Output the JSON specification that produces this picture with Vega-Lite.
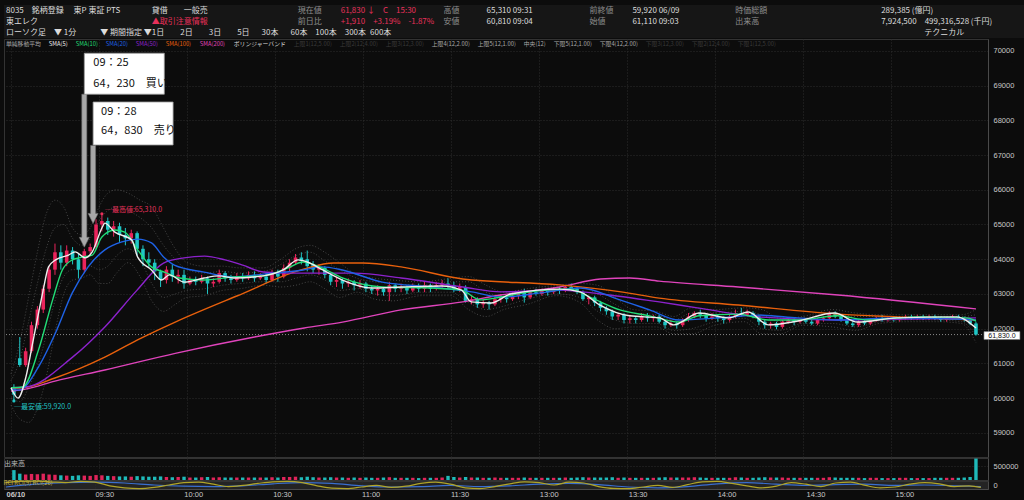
{
"$schema":"https://vega.github.io/schema/vega-lite/v6.json",
"background":"#0c0c0c",
"padding":{"left":3,"top":5,"right":0,"bottom":2},
"spacing":1,
"bounds":"flush",
"resolve":{"scale":{"color":"independent"},"legend":{"color":"independent"}},
"config":{"view":{"stroke":"#333333"},"axis":{"labelColor":"#c8c8c8","labelFont":"Liberation Sans","labelFontSize":7.5,"gridColor":"#2c2c2c","gridDash":[1,2],"gridWidth":1,"tickSize":0,"domainColor":"#4a4a4a","labelOverlap":false},"text":{"font":"Noto Sans CJK JP"},"title":{"font":"Noto Sans CJK JP","color":"#bbbbbb","fontSize":7,"fontWeight":"normal","anchor":"start"}},
"datasets":{
"header":[
{"g":"銘柄","line":1,"part":"name","tone":"text","text":"8035　銘柄登録　 東P 東証 PTS"},
{"g":"銘柄","line":2,"part":"name","tone":"text","text":"東エレク"},
{"g":"銘柄","line":3,"part":"name","tone":"text","text":"ローソク足　▼ 1分　　　▼ 期間指定 ▼"},
{"g":"信用","line":1,"part":"name","tone":"text","text":"　　\u2002貸借　　一般売"},
{"g":"信用","line":2,"part":"name","tone":"red","text":"　\u2002▲取引注意情報"},
{"g":"信用","line":3,"part":"name","tone":"text","text":"　1日　　2日　　3日　　5日　\u200230本　\u200260本　100本\u2002\u2002300本\u2002600本"},
{"g":"現在値","line":1,"part":"name","tone":"label","text":"現在値"},
{"g":"現在値","line":1,"part":"value","tone":"red","text":"61,830 ↓　C　15:30"},
{"g":"現在値","line":2,"part":"name","tone":"label","text":"前日比"},
{"g":"現在値","line":2,"part":"value","tone":"red","text":"+1,910　+3.19%　-1.87%"},
{"g":"高値","line":1,"part":"name","tone":"label","text":"高値"},
{"g":"高値","line":1,"part":"value","tone":"text","text":"65,310 09:31"},
{"g":"高値","line":2,"part":"name","tone":"label","text":"安値"},
{"g":"高値","line":2,"part":"value","tone":"text","text":"60,810 09:04"},
{"g":"前終値","line":1,"part":"name","tone":"label","text":"前終値"},
{"g":"前終値","line":1,"part":"value","tone":"text","text":"59,920 06/09"},
{"g":"前終値","line":2,"part":"name","tone":"label","text":"始値"},
{"g":"前終値","line":2,"part":"value","tone":"text","text":"61,110 09:03"},
{"g":"時価総額","line":1,"part":"name","tone":"label","text":"時価総額"},
{"g":"時価総額","line":2,"part":"name","tone":"label","text":"出来高"},
{"g":"金額","line":1,"part":"name","tone":"text","text":"\u2002\u2002289,385 (億円)"},
{"g":"金額","line":2,"part":"name","tone":"text","text":"7,924,500　499,316,528 (千円)"},
{"g":"金額","line":3,"part":"value","tone":"text","text":"テクニカル"}
],
"candles":[
{"t":1,"o":60300,"h":60400,"l":59920,"c":60100,"v":360000},
{"t":3,"o":61150,"h":61760,"l":60900,"c":60950,"v":230000},
{"t":5,"o":60950,"h":61450,"l":60900,"c":61350,"v":200000},
{"t":7,"o":61350,"h":62200,"l":61300,"c":62100,"v":220000},
{"t":9,"o":62100,"h":62650,"l":62000,"c":62550,"v":210000},
{"t":11,"o":62550,"h":63250,"l":62450,"c":63150,"v":230000},
{"t":13,"o":63150,"h":63800,"l":63050,"c":63700,"v":200000},
{"t":15,"o":63700,"h":64450,"l":63550,"c":64200,"v":190000},
{"t":17,"o":64200,"h":64400,"l":63700,"c":63900,"v":170000},
{"t":19,"o":63900,"h":64400,"l":63800,"c":64250,"v":160000},
{"t":21,"o":64250,"h":64350,"l":63850,"c":64000,"v":150000},
{"t":23,"o":64000,"h":64150,"l":63450,"c":63700,"v":170000},
{"t":25,"o":63700,"h":64300,"l":63600,"c":64230,"v":160000},
{"t":27,"o":64230,"h":64450,"l":64100,"c":64350,"v":150000},
{"t":29,"o":64350,"h":65150,"l":64300,"c":65000,"v":180000},
{"t":31,"o":65000,"h":65310,"l":64800,"c":65100,"v":170000},
{"t":33,"o":65100,"h":65200,"l":64700,"c":64850,"v":150000},
{"t":35,"o":64850,"h":65100,"l":64650,"c":64950,"v":140000},
{"t":37,"o":64950,"h":65050,"l":64500,"c":64700,"v":130000},
{"t":39,"o":64700,"h":64900,"l":64400,"c":64600,"v":130000},
{"t":41,"o":64600,"h":64850,"l":64450,"c":64750,"v":120000},
{"t":43,"o":64750,"h":64800,"l":64100,"c":64300,"v":140000},
{"t":45,"o":64300,"h":64400,"l":63800,"c":64000,"v":130000},
{"t":47,"o":64000,"h":64200,"l":63750,"c":63900,"v":120000},
{"t":49,"o":63900,"h":64000,"l":63400,"c":63650,"v":120000},
{"t":51,"o":63650,"h":63700,"l":63200,"c":63400,"v":130000},
{"t":53,"o":63400,"h":63800,"l":63300,"c":63700,"v":110000},
{"t":55,"o":63700,"h":63850,"l":63350,"c":63500,"v":100000},
{"t":57,"o":63500,"h":63700,"l":63300,"c":63550,"v":110000},
{"t":59,"o":63550,"h":63700,"l":63150,"c":63300,"v":120000},
{"t":61,"o":63300,"h":63500,"l":63250,"c":63400,"v":90000},
{"t":63,"o":63400,"h":63500,"l":63250,"c":63350,"v":90000},
{"t":65,"o":63350,"h":63550,"l":63300,"c":63450,"v":100000},
{"t":67,"o":63450,"h":63500,"l":63000,"c":63300,"v":110000},
{"t":69,"o":63300,"h":63450,"l":63200,"c":63350,"v":90000},
{"t":71,"o":63350,"h":63700,"l":63300,"c":63600,"v":100000},
{"t":73,"o":63600,"h":63650,"l":63350,"c":63450,"v":90000},
{"t":75,"o":63450,"h":63550,"l":63300,"c":63400,"v":90000},
{"t":77,"o":63400,"h":63600,"l":63350,"c":63500,"v":90000},
{"t":79,"o":63500,"h":63600,"l":63350,"c":63450,"v":90000},
{"t":81,"o":63450,"h":63650,"l":63400,"c":63550,"v":90000},
{"t":83,"o":63550,"h":63650,"l":63350,"c":63450,"v":90000},
{"t":85,"o":63450,"h":63600,"l":63400,"c":63500,"v":90000},
{"t":87,"o":63500,"h":63600,"l":63300,"c":63400,"v":90000},
{"t":89,"o":63400,"h":63700,"l":63350,"c":63600,"v":100000},
{"t":91,"o":63600,"h":63700,"l":63350,"c":63500,"v":90000},
{"t":93,"o":63500,"h":63850,"l":63450,"c":63750,"v":110000},
{"t":95,"o":63750,"h":64000,"l":63650,"c":63900,"v":110000},
{"t":97,"o":63900,"h":64150,"l":63850,"c":64050,"v":120000},
{"t":99,"o":64050,"h":64200,"l":63850,"c":63950,"v":100000},
{"t":101,"o":64000,"h":64250,"l":63650,"c":63800,"v":120000},
{"t":103,"o":63850,"h":63950,"l":63600,"c":63700,"v":100000},
{"t":105,"o":63700,"h":63850,"l":63550,"c":63750,"v":90000},
{"t":107,"o":63750,"h":63800,"l":63450,"c":63550,"v":90000},
{"t":109,"o":63550,"h":63600,"l":63250,"c":63350,"v":100000},
{"t":111,"o":63350,"h":63500,"l":63200,"c":63400,"v":90000},
{"t":113,"o":63400,"h":63450,"l":63150,"c":63300,"v":90000},
{"t":115,"o":63300,"h":63450,"l":63200,"c":63350,"v":80000},
{"t":117,"o":63350,"h":63400,"l":63100,"c":63250,"v":90000},
{"t":119,"o":63250,"h":63400,"l":63150,"c":63300,"v":80000},
{"t":121,"o":63300,"h":63350,"l":63050,"c":63150,"v":90000},
{"t":123,"o":63150,"h":63250,"l":63000,"c":63100,"v":80000},
{"t":125,"o":63100,"h":63250,"l":62950,"c":63150,"v":80000},
{"t":127,"o":63150,"h":63200,"l":62950,"c":63050,"v":90000},
{"t":129,"o":63050,"h":63350,"l":62800,"c":63250,"v":100000},
{"t":131,"o":63250,"h":63300,"l":63050,"c":63150,"v":80000},
{"t":133,"o":63150,"h":63300,"l":63050,"c":63200,"v":80000},
{"t":135,"o":63200,"h":63250,"l":63000,"c":63100,"v":80000},
{"t":137,"o":63100,"h":63300,"l":63050,"c":63200,"v":80000},
{"t":139,"o":63200,"h":63300,"l":63050,"c":63150,"v":70000},
{"t":141,"o":63150,"h":63350,"l":63050,"c":63250,"v":80000},
{"t":143,"o":63250,"h":63300,"l":63050,"c":63150,"v":80000},
{"t":145,"o":63150,"h":63350,"l":63100,"c":63250,"v":80000},
{"t":147,"o":63250,"h":63400,"l":63150,"c":63300,"v":90000},
{"t":149,"o":63300,"h":63450,"l":63150,"c":63250,"v":150000},
{"t":151,"o":63250,"h":63350,"l":63050,"c":63150,"v":110000},
{"t":153,"o":63150,"h":63300,"l":63050,"c":63200,"v":90000},
{"t":155,"o":63200,"h":63250,"l":62750,"c":62800,"v":110000},
{"t":157,"o":62800,"h":62950,"l":62700,"c":62850,"v":90000},
{"t":159,"o":62850,"h":62900,"l":62600,"c":62700,"v":90000},
{"t":161,"o":62700,"h":62850,"l":62600,"c":62750,"v":80000},
{"t":163,"o":62750,"h":62800,"l":62550,"c":62700,"v":80000},
{"t":165,"o":62700,"h":62950,"l":62650,"c":62850,"v":90000},
{"t":167,"o":62850,"h":63000,"l":62750,"c":62900,"v":80000},
{"t":169,"o":62900,"h":62950,"l":62750,"c":62850,"v":80000},
{"t":171,"o":62850,"h":63050,"l":62800,"c":62950,"v":80000},
{"t":173,"o":62950,"h":63100,"l":62850,"c":63000,"v":80000},
{"t":175,"o":63050,"h":63150,"l":62750,"c":62900,"v":90000},
{"t":177,"o":62900,"h":63100,"l":62850,"c":63050,"v":80000},
{"t":179,"o":63050,"h":63150,"l":62950,"c":63000,"v":80000},
{"t":181,"o":63000,"h":63150,"l":62950,"c":63100,"v":80000},
{"t":183,"o":63100,"h":63150,"l":62950,"c":63050,"v":80000},
{"t":185,"o":63050,"h":63200,"l":63000,"c":63150,"v":80000},
{"t":187,"o":63150,"h":63200,"l":63000,"c":63100,"v":80000},
{"t":189,"o":63100,"h":63250,"l":63050,"c":63200,"v":90000},
{"t":191,"o":63200,"h":63300,"l":63100,"c":63150,"v":80000},
{"t":193,"o":63150,"h":63200,"l":63000,"c":63050,"v":90000},
{"t":195,"o":63050,"h":63100,"l":62800,"c":62850,"v":100000},
{"t":197,"o":62850,"h":62950,"l":62700,"c":62900,"v":90000},
{"t":199,"o":62900,"h":62950,"l":62650,"c":62750,"v":90000},
{"t":201,"o":62750,"h":62800,"l":62500,"c":62600,"v":90000},
{"t":203,"o":62600,"h":62650,"l":62400,"c":62500,"v":90000},
{"t":205,"o":62500,"h":62550,"l":62250,"c":62350,"v":100000},
{"t":207,"o":62350,"h":62450,"l":62250,"c":62400,"v":80000},
{"t":209,"o":62400,"h":62450,"l":62150,"c":62250,"v":90000},
{"t":211,"o":62250,"h":62400,"l":62150,"c":62300,"v":80000},
{"t":213,"o":62300,"h":62350,"l":62150,"c":62250,"v":80000},
{"t":215,"o":62250,"h":62450,"l":62200,"c":62350,"v":80000},
{"t":217,"o":62350,"h":62450,"l":62200,"c":62300,"v":80000},
{"t":219,"o":62300,"h":62400,"l":62200,"c":62350,"v":80000},
{"t":221,"o":62350,"h":62400,"l":62150,"c":62200,"v":90000},
{"t":223,"o":62200,"h":62250,"l":62000,"c":62100,"v":100000},
{"t":225,"o":62100,"h":62250,"l":62050,"c":62150,"v":90000},
{"t":227,"o":62150,"h":62200,"l":62000,"c":62100,"v":90000},
{"t":229,"o":62100,"h":62300,"l":62050,"c":62250,"v":90000},
{"t":231,"o":62250,"h":62450,"l":62200,"c":62350,"v":90000},
{"t":233,"o":62350,"h":62500,"l":62300,"c":62450,"v":100000},
{"t":235,"o":62450,"h":62550,"l":62300,"c":62400,"v":90000},
{"t":237,"o":62400,"h":62450,"l":62200,"c":62300,"v":80000},
{"t":239,"o":62300,"h":62450,"l":62250,"c":62350,"v":80000},
{"t":241,"o":62350,"h":62400,"l":62200,"c":62300,"v":80000},
{"t":243,"o":62300,"h":62350,"l":62150,"c":62250,"v":80000},
{"t":245,"o":62250,"h":62400,"l":62200,"c":62350,"v":80000},
{"t":247,"o":62350,"h":62550,"l":62300,"c":62450,"v":100000},
{"t":249,"o":62450,"h":62600,"l":62350,"c":62400,"v":90000},
{"t":251,"o":62400,"h":62550,"l":62350,"c":62450,"v":80000},
{"t":253,"o":62450,"h":62500,"l":62300,"c":62350,"v":80000},
{"t":255,"o":62350,"h":62400,"l":62100,"c":62200,"v":90000},
{"t":257,"o":62200,"h":62250,"l":62000,"c":62100,"v":100000},
{"t":259,"o":62100,"h":62200,"l":62000,"c":62150,"v":90000},
{"t":261,"o":62150,"h":62200,"l":61980,"c":62050,"v":90000},
{"t":263,"o":62050,"h":62250,"l":62000,"c":62200,"v":90000},
{"t":265,"o":62200,"h":62300,"l":62150,"c":62250,"v":80000},
{"t":267,"o":62250,"h":62300,"l":62100,"c":62200,"v":80000},
{"t":269,"o":62200,"h":62300,"l":62150,"c":62250,"v":80000},
{"t":271,"o":62250,"h":62300,"l":62150,"c":62200,"v":80000},
{"t":273,"o":62200,"h":62250,"l":62100,"c":62150,"v":80000},
{"t":275,"o":62150,"h":62300,"l":62100,"c":62250,"v":80000},
{"t":277,"o":62250,"h":62350,"l":62200,"c":62300,"v":80000},
{"t":279,"o":62300,"h":62500,"l":62250,"c":62450,"v":100000},
{"t":281,"o":62450,"h":62500,"l":62300,"c":62350,"v":90000},
{"t":283,"o":62350,"h":62400,"l":62200,"c":62250,"v":80000},
{"t":285,"o":62250,"h":62300,"l":62100,"c":62150,"v":80000},
{"t":287,"o":62150,"h":62200,"l":62050,"c":62100,"v":80000},
{"t":289,"o":62100,"h":62250,"l":62050,"c":62200,"v":80000},
{"t":291,"o":62200,"h":62250,"l":62100,"c":62150,"v":70000},
{"t":293,"o":62150,"h":62300,"l":62100,"c":62250,"v":80000},
{"t":295,"o":62250,"h":62350,"l":62200,"c":62300,"v":80000},
{"t":297,"o":62300,"h":62400,"l":62200,"c":62250,"v":70000},
{"t":299,"o":62250,"h":62350,"l":62200,"c":62300,"v":70000},
{"t":301,"o":62300,"h":62350,"l":62200,"c":62250,"v":70000},
{"t":303,"o":62250,"h":62350,"l":62200,"c":62300,"v":80000},
{"t":305,"o":62300,"h":62400,"l":62250,"c":62350,"v":80000},
{"t":307,"o":62350,"h":62400,"l":62250,"c":62300,"v":70000},
{"t":309,"o":62300,"h":62400,"l":62250,"c":62350,"v":70000},
{"t":311,"o":62350,"h":62400,"l":62250,"c":62300,"v":70000},
{"t":313,"o":62300,"h":62400,"l":62250,"c":62350,"v":70000},
{"t":315,"o":62350,"h":62400,"l":62250,"c":62300,"v":80000},
{"t":317,"o":62300,"h":62350,"l":62200,"c":62250,"v":80000},
{"t":319,"o":62250,"h":62350,"l":62200,"c":62300,"v":80000},
{"t":321,"o":62300,"h":62400,"l":62250,"c":62350,"v":80000},
{"t":323,"o":62350,"h":62400,"l":62250,"c":62300,"v":80000},
{"t":325,"o":62300,"h":62350,"l":62200,"c":62250,"v":90000},
{"t":327,"o":62250,"h":62300,"l":62100,"c":62150,"v":110000},
{"t":329,"o":62150,"h":62200,"l":61800,"c":61830,"v":780000}
],
"ma":[
{"s":"SMA(200)","t":0,"v":60200},{"s":"SMA(200)","t":5,"v":60260},{"s":"SMA(200)","t":15,"v":60490},{"s":"SMA(200)","t":32,"v":60810},{"s":"SMA(200)","t":56,"v":61290},{"s":"SMA(200)","t":83,"v":61760},{"s":"SMA(200)","t":100,"v":62020},{"s":"SMA(200)","t":113,"v":62190},{"s":"SMA(200)","t":133,"v":62540},{"s":"SMA(200)","t":154,"v":62770},{"s":"SMA(200)","t":167,"v":62970},{"s":"SMA(200)","t":187,"v":63200},{"s":"SMA(200)","t":201,"v":63430},{"s":"SMA(200)","t":211,"v":63460},{"s":"SMA(200)","t":221,"v":63370},{"s":"SMA(200)","t":248,"v":63200},{"s":"SMA(200)","t":282,"v":62970},{"s":"SMA(200)","t":329,"v":62570},
{"s":"SMA(100)","t":0,"v":60290},{"s":"SMA(100)","t":3,"v":60290},{"s":"SMA(100)","t":15,"v":60580},{"s":"SMA(100)","t":32,"v":61180},{"s":"SMA(100)","t":43,"v":61670},{"s":"SMA(100)","t":56,"v":62190},{"s":"SMA(100)","t":77,"v":62940},{"s":"SMA(100)","t":100,"v":63720},{"s":"SMA(100)","t":110,"v":63890},{"s":"SMA(100)","t":120,"v":63890},{"s":"SMA(100)","t":133,"v":63780},{"s":"SMA(100)","t":154,"v":63430},{"s":"SMA(100)","t":187,"v":63260},{"s":"SMA(100)","t":208,"v":63060},{"s":"SMA(100)","t":221,"v":62880},{"s":"SMA(100)","t":248,"v":62680},{"s":"SMA(100)","t":282,"v":62420},{"s":"SMA(100)","t":302,"v":62340},{"s":"SMA(100)","t":329,"v":62250},
{"s":"SMA(50)","t":0,"v":60300},{"s":"SMA(50)","t":5,"v":60320},{"s":"SMA(50)","t":21,"v":61180},{"s":"SMA(50)","t":32,"v":62050},{"s":"SMA(50)","t":43,"v":63110},{"s":"SMA(50)","t":52,"v":63890},{"s":"SMA(50)","t":59,"v":64040},{"s":"SMA(50)","t":66,"v":64090},{"s":"SMA(50)","t":73,"v":63980},{"s":"SMA(50)","t":79,"v":63830},{"s":"SMA(50)","t":86,"v":63630},{"s":"SMA(50)","t":94,"v":63600},{"s":"SMA(50)","t":117,"v":63600},{"s":"SMA(50)","t":133,"v":63460},{"s":"SMA(50)","t":154,"v":63200},{"s":"SMA(50)","t":167,"v":63060},{"s":"SMA(50)","t":187,"v":63110},{"s":"SMA(50)","t":201,"v":63000},{"s":"SMA(50)","t":221,"v":62770},{"s":"SMA(50)","t":234,"v":62600},{"s":"SMA(50)","t":255,"v":62340},{"s":"SMA(50)","t":282,"v":62250},{"s":"SMA(50)","t":329,"v":62310},
{"s":"SMA(20)","t":0,"v":60250},{"s":"SMA(20)","t":2.7,"v":60230},{"s":"SMA(20)","t":9.4,"v":60900},{"s":"SMA(20)","t":15.2,"v":61880},{"s":"SMA(20)","t":20.9,"v":63030},{"s":"SMA(20)","t":26.3,"v":63780},{"s":"SMA(20)","t":32,"v":64270},{"s":"SMA(20)","t":37.8,"v":64500},{"s":"SMA(20)","t":43.2,"v":64580},{"s":"SMA(20)","t":47.9,"v":64470},{"s":"SMA(20)","t":52.3,"v":64040},{"s":"SMA(20)","t":55.7,"v":63830},{"s":"SMA(20)","t":65.8,"v":63630},{"s":"SMA(20)","t":75.9,"v":63490},{"s":"SMA(20)","t":86,"v":63570},{"s":"SMA(20)","t":99.6,"v":63690},{"s":"SMA(20)","t":106,"v":63780},{"s":"SMA(20)","t":113,"v":63690},{"s":"SMA(20)","t":126.6,"v":63340},{"s":"SMA(20)","t":143.4,"v":63200},{"s":"SMA(20)","t":157,"v":63060},{"s":"SMA(20)","t":167,"v":62910},{"s":"SMA(20)","t":180.6,"v":63030},{"s":"SMA(20)","t":194,"v":63170},{"s":"SMA(20)","t":207.6,"v":62830},{"s":"SMA(20)","t":217.7,"v":62540},{"s":"SMA(20)","t":227.8,"v":62250},{"s":"SMA(20)","t":241.3,"v":62310},{"s":"SMA(20)","t":254.8,"v":62390},{"s":"SMA(20)","t":268.3,"v":62310},{"s":"SMA(20)","t":281.8,"v":62250},{"s":"SMA(20)","t":302,"v":62310},{"s":"SMA(20)","t":329,"v":62250},
{"s":"SMA(10)","t":0,"v":60300},{"s":"SMA(10)","t":4,"v":60320},{"s":"SMA(10)","t":9.4,"v":61390},{"s":"SMA(10)","t":14.2,"v":62830},{"s":"SMA(10)","t":17.5,"v":63690},{"s":"SMA(10)","t":20.9,"v":63980},{"s":"SMA(10)","t":24.3,"v":64060},{"s":"SMA(10)","t":27.7,"v":64120},{"s":"SMA(10)","t":31,"v":64640},{"s":"SMA(10)","t":35.4,"v":64840},{"s":"SMA(10)","t":38.8,"v":64780},{"s":"SMA(10)","t":43.2,"v":64270},{"s":"SMA(10)","t":47.9,"v":63780},{"s":"SMA(10)","t":52.3,"v":63630},{"s":"SMA(10)","t":57.4,"v":63460},{"s":"SMA(10)","t":65.8,"v":63400},{"s":"SMA(10)","t":75.9,"v":63490},{"s":"SMA(10)","t":86,"v":63520},{"s":"SMA(10)","t":94.5,"v":63750},{"s":"SMA(10)","t":99.6,"v":63920},{"s":"SMA(10)","t":106,"v":63750},{"s":"SMA(10)","t":113,"v":63460},{"s":"SMA(10)","t":126.6,"v":63200},{"s":"SMA(10)","t":143.4,"v":63170},{"s":"SMA(10)","t":153.6,"v":63110},{"s":"SMA(10)","t":160,"v":62830},{"s":"SMA(10)","t":167,"v":62910},{"s":"SMA(10)","t":177,"v":63060},{"s":"SMA(10)","t":190.7,"v":63140},{"s":"SMA(10)","t":197.4,"v":62910},{"s":"SMA(10)","t":207.6,"v":62540},{"s":"SMA(10)","t":217.7,"v":62370},{"s":"SMA(10)","t":227.8,"v":62190},{"s":"SMA(10)","t":234.6,"v":62370},{"s":"SMA(10)","t":248,"v":62420},{"s":"SMA(10)","t":258.2,"v":62250},{"s":"SMA(10)","t":268.3,"v":62250},{"s":"SMA(10)","t":281.8,"v":62370},{"s":"SMA(10)","t":292,"v":62250},{"s":"SMA(10)","t":308.8,"v":62340},{"s":"SMA(10)","t":325.7,"v":62310},{"s":"SMA(10)","t":329,"v":62220},
{"s":"SMA(5)","t":0,"v":60300},{"s":"SMA(5)","t":0.7,"v":60180},{"s":"SMA(5)","t":2.4,"v":60000},{"s":"SMA(5)","t":5.1,"v":60610},{"s":"SMA(5)","t":7.4,"v":61590},{"s":"SMA(5)","t":10.8,"v":63030},{"s":"SMA(5)","t":12.8,"v":63780},{"s":"SMA(5)","t":15.2,"v":63980},{"s":"SMA(5)","t":19.6,"v":64120},{"s":"SMA(5)","t":21.9,"v":64210},{"s":"SMA(5)","t":25.3,"v":64040},{"s":"SMA(5)","t":27.7,"v":64210},{"s":"SMA(5)","t":31,"v":64900},{"s":"SMA(5)","t":32,"v":65040},{"s":"SMA(5)","t":35.4,"v":64780},{"s":"SMA(5)","t":41.2,"v":64550},{"s":"SMA(5)","t":43.2,"v":64060},{"s":"SMA(5)","t":47.9,"v":63690},{"s":"SMA(5)","t":51.3,"v":63400},{"s":"SMA(5)","t":54,"v":63550},{"s":"SMA(5)","t":59.1,"v":63340},{"s":"SMA(5)","t":65.8,"v":63460},{"s":"SMA(5)","t":70.9,"v":63520},{"s":"SMA(5)","t":75.9,"v":63460},{"s":"SMA(5)","t":86,"v":63520},{"s":"SMA(5)","t":92.8,"v":63690},{"s":"SMA(5)","t":97.9,"v":63980},{"s":"SMA(5)","t":101,"v":63920},{"s":"SMA(5)","t":106.3,"v":63690},{"s":"SMA(5)","t":113,"v":63400},{"s":"SMA(5)","t":123,"v":63170},{"s":"SMA(5)","t":133.3,"v":63200},{"s":"SMA(5)","t":146.8,"v":63230},{"s":"SMA(5)","t":153.6,"v":63110},{"s":"SMA(5)","t":156.9,"v":62770},{"s":"SMA(5)","t":163.7,"v":62740},{"s":"SMA(5)","t":170.4,"v":63000},{"s":"SMA(5)","t":187.3,"v":63140},{"s":"SMA(5)","t":194,"v":63060},{"s":"SMA(5)","t":200.8,"v":62680},{"s":"SMA(5)","t":210.9,"v":62370},{"s":"SMA(5)","t":221.1,"v":62310},{"s":"SMA(5)","t":226,"v":62110},{"s":"SMA(5)","t":234.6,"v":62450},{"s":"SMA(5)","t":244.7,"v":62310},{"s":"SMA(5)","t":251.4,"v":62480},{"s":"SMA(5)","t":258.2,"v":62110},{"s":"SMA(5)","t":268.3,"v":62220},{"s":"SMA(5)","t":280.8,"v":62450},{"s":"SMA(5)","t":288.6,"v":62190},{"s":"SMA(5)","t":302,"v":62310},{"s":"SMA(5)","t":322.3,"v":62340},{"s":"SMA(5)","t":329,"v":62020}
],
"bb":[
{"t":0,"u2":60700,"u1":60500,"l1":60000,"l2":59800},
{"t":3,"u2":61600,"u1":61100,"l1":59900,"l2":59400},
{"t":6,"u2":62900,"u1":62200,"l1":60300,"l2":59300},
{"t":9,"u2":64200,"u1":63300,"l1":60900,"l2":59700},
{"t":12,"u2":65300,"u1":64300,"l1":61800,"l2":60600},
{"t":15,"u2":65700,"u1":64900,"l1":62800,"l2":61900},
{"t":18,"u2":65500,"u1":65000,"l1":63500,"l2":63000},
{"t":21,"u2":64900,"u1":64600,"l1":63700,"l2":63400},
{"t":24,"u2":64700,"u1":64400,"l1":63700,"l2":63450},
{"t":27,"u2":64900,"u1":64600,"l1":63800,"l2":63550},
{"t":30,"u2":65500,"u1":65100,"l1":63700,"l2":63300},
{"t":33,"u2":65900,"u1":65400,"l1":63800,"l2":63300},
{"t":36,"u2":66000,"u1":65500,"l1":64100,"l2":63600},
{"t":40,"u2":65900,"u1":65400,"l1":64300,"l2":63900},
{"t":44,"u2":65700,"u1":65200,"l1":64000,"l2":63500},
{"t":48,"u2":65500,"u1":64900,"l1":63300,"l2":62800},
{"t":52,"u2":64900,"u1":64400,"l1":62900,"l2":62500},
{"t":56,"u2":64300,"u1":64000,"l1":63000,"l2":62700},
{"t":60,"u2":63900,"u1":63700,"l1":63100,"l2":62900},
{"t":66,"u2":63800,"u1":63600,"l1":63150,"l2":62950},
{"t":72,"u2":63800,"u1":63650,"l1":63250,"l2":63100},
{"t":78,"u2":63750,"u1":63600,"l1":63300,"l2":63150},
{"t":86,"u2":63750,"u1":63650,"l1":63350,"l2":63250},
{"t":92,"u2":64000,"u1":63850,"l1":63350,"l2":63200},
{"t":97,"u2":64300,"u1":64100,"l1":63450,"l2":63250},
{"t":102,"u2":64400,"u1":64200,"l1":63550,"l2":63350},
{"t":107,"u2":64200,"u1":63950,"l1":63400,"l2":63150},
{"t":112,"u2":63900,"u1":63700,"l1":63100,"l2":62900},
{"t":118,"u2":63550,"u1":63450,"l1":63150,"l2":63050},
{"t":124,"u2":63450,"u1":63350,"l1":63000,"l2":62850},
{"t":130,"u2":63400,"u1":63300,"l1":62950,"l2":62800},
{"t":140,"u2":63350,"u1":63250,"l1":63050,"l2":62950},
{"t":150,"u2":63450,"u1":63350,"l1":63050,"l2":62950},
{"t":156,"u2":63500,"u1":63350,"l1":62750,"l2":62550},
{"t":162,"u2":63250,"u1":63050,"l1":62550,"l2":62350},
{"t":168,"u2":63050,"u1":62950,"l1":62650,"l2":62550},
{"t":176,"u2":63150,"u1":63050,"l1":62850,"l2":62700},
{"t":186,"u2":63250,"u1":63200,"l1":63000,"l2":62950},
{"t":194,"u2":63300,"u1":63200,"l1":62900,"l2":62750},
{"t":200,"u2":63250,"u1":63000,"l1":62500,"l2":62250},
{"t":206,"u2":62900,"u1":62700,"l1":62250,"l2":62000},
{"t":212,"u2":62550,"u1":62450,"l1":62150,"l2":62050},
{"t":220,"u2":62500,"u1":62400,"l1":62150,"l2":62050},
{"t":226,"u2":62350,"u1":62250,"l1":61950,"l2":61850},
{"t":232,"u2":62600,"u1":62450,"l1":62000,"l2":61850},
{"t":240,"u2":62550,"u1":62450,"l1":62200,"l2":62100},
{"t":250,"u2":62600,"u1":62500,"l1":62300,"l2":62200},
{"t":256,"u2":62550,"u1":62400,"l1":62000,"l2":61850},
{"t":262,"u2":62300,"u1":62200,"l1":61950,"l2":61850},
{"t":270,"u2":62350,"u1":62300,"l1":62150,"l2":62100},
{"t":280,"u2":62550,"u1":62450,"l1":62150,"l2":62050},
{"t":288,"u2":62450,"u1":62350,"l1":62050,"l2":61950},
{"t":296,"u2":62400,"u1":62350,"l1":62200,"l2":62150},
{"t":306,"u2":62400,"u1":62350,"l1":62250,"l2":62200},
{"t":316,"u2":62400,"u1":62350,"l1":62250,"l2":62200},
{"t":324,"u2":62400,"u1":62350,"l1":62200,"l2":62150},
{"t":329,"u2":62550,"u1":62400,"l1":61800,"l2":61600}
],
"trades":[
{"time":"09：25","t":25,"price":64230,"side":"買い","note":"64，230　買い"},
{"time":"09：28","t":28,"price":64830,"side":"売り","note":"64，830　売り"}
],
"extremes":[
{"kind":"high","t":31,"price":65310,"label":"─最高値:65,310.0"},
{"kind":"low","t":1,"price":59920,"label":"─最安値:59,920.0"}
],
"last":[{"t":329,"price":61830,"label":"61,830.0"}],
"rci":[
{"s":"9","t":0,"v":60},{"s":"9","t":5,"v":90},{"s":"9","t":10,"v":95},{"s":"9","t":15,"v":80},{"s":"9","t":20,"v":60},{"s":"9","t":25,"v":90},{"s":"9","t":30,"v":70},{"s":"9","t":35,"v":-20},{"s":"9","t":40,"v":-70},{"s":"9","t":45,"v":-90},{"s":"9","t":50,"v":-60},{"s":"9","t":55,"v":0},{"s":"9","t":60,"v":60},{"s":"9","t":65,"v":70},{"s":"9","t":70,"v":20},{"s":"9","t":75,"v":-40},{"s":"9","t":80,"v":-10},{"s":"9","t":85,"v":40},{"s":"9","t":90,"v":80},{"s":"9","t":95,"v":90},{"s":"9","t":100,"v":60},{"s":"9","t":105,"v":-20},{"s":"9","t":110,"v":-80},{"s":"9","t":115,"v":-90},{"s":"9","t":120,"v":-50},{"s":"9","t":125,"v":-10},{"s":"9","t":130,"v":-60},{"s":"9","t":135,"v":-30},{"s":"9","t":140,"v":40},{"s":"9","t":145,"v":70},{"s":"9","t":150,"v":20},{"s":"9","t":155,"v":-70},{"s":"9","t":160,"v":-90},{"s":"9","t":165,"v":-40},{"s":"9","t":170,"v":30},{"s":"9","t":175,"v":80},{"s":"9","t":180,"v":60},{"s":"9","t":185,"v":0},{"s":"9","t":190,"v":70},{"s":"9","t":195,"v":50},{"s":"9","t":200,"v":-40},{"s":"9","t":205,"v":-85},{"s":"9","t":210,"v":-90},{"s":"9","t":215,"v":-50},{"s":"9","t":220,"v":-10},{"s":"9","t":225,"v":-60},{"s":"9","t":230,"v":10},{"s":"9","t":235,"v":80},{"s":"9","t":240,"v":90},{"s":"9","t":245,"v":40},{"s":"9","t":250,"v":-20},{"s":"9","t":255,"v":-70},{"s":"9","t":260,"v":-30},{"s":"9","t":265,"v":60},{"s":"9","t":270,"v":20},{"s":"9","t":275,"v":-40},{"s":"9","t":280,"v":50},{"s":"9","t":285,"v":70},{"s":"9","t":290,"v":-10},{"s":"9","t":295,"v":-70},{"s":"9","t":300,"v":-50},{"s":"9","t":305,"v":20},{"s":"9","t":310,"v":60},{"s":"9","t":315,"v":30},{"s":"9","t":320,"v":-40},{"s":"9","t":325,"v":-20},{"s":"9","t":329,"v":-60},
{"s":"26","t":0,"v":-50},{"s":"26","t":10,"v":20},{"s":"26","t":20,"v":60},{"s":"26","t":30,"v":70},{"s":"26","t":40,"v":50},{"s":"26","t":50,"v":0},{"s":"26","t":60,"v":-30},{"s":"26","t":70,"v":-40},{"s":"26","t":80,"v":-20},{"s":"26","t":90,"v":30},{"s":"26","t":100,"v":60},{"s":"26","t":110,"v":40},{"s":"26","t":120,"v":-20},{"s":"26","t":130,"v":-50},{"s":"26","t":140,"v":-40},{"s":"26","t":150,"v":-10},{"s":"26","t":160,"v":-40},{"s":"26","t":170,"v":-20},{"s":"26","t":180,"v":20},{"s":"26","t":190,"v":40},{"s":"26","t":200,"v":10},{"s":"26","t":210,"v":-50},{"s":"26","t":220,"v":-70},{"s":"26","t":230,"v":-40},{"s":"26","t":240,"v":30},{"s":"26","t":250,"v":60},{"s":"26","t":260,"v":20},{"s":"26","t":270,"v":-10},{"s":"26","t":280,"v":10},{"s":"26","t":290,"v":20},{"s":"26","t":300,"v":-10},{"s":"26","t":310,"v":0},{"s":"26","t":320,"v":-20},{"s":"26","t":329,"v":-40}
]
},
"vconcat":[
{
"width":1021,"height":33,
"view":{"fill":"#161616","stroke":null},
"data":{"name":"header"},
"encoding":{
"x":{"field":"g","type":"nominal","bandPosition":0,"scale":{"type":"band","domain":["銘柄","信用","現在値","高値","前終値","時価総額","金額"],"paddingInner":0,"paddingOuter":0},"axis":null},
"y":{"field":"line","type":"ordinal","scale":{"type":"band","domain":[1,2,3],"paddingInner":0,"paddingOuter":0},"axis":null},
"text":{"field":"text"},
"color":{"condition":[{"test":"datum.tone==='label'","value":"#8e8e8e"},{"test":"datum.tone==='red'","value":"#e8305a"}],"value":"#dcdcdc"}
},
"layer":[
{"transform":[{"filter":"datum.part==='name'"}],"mark":{"type":"text","align":"left","baseline":"middle","dx":2,"fontSize":8,"font":"Noto Sans CJK JP"}},
{"transform":[{"filter":"datum.part==='value'"}],"mark":{"type":"text","align":"left","baseline":"middle","dx":45,"fontSize":8,"font":"Noto Sans CJK JP"}}
]
},
{
"name":"main",
"width":984,"height":418,
"layer":[
{"data":{"name":"bb"},"transform":[{"fold":["u2","u1","l1","l2"],"as":["band","v"]}],
"mark":{"type":"line","strokeWidth":0.8,"strokeDash":[1,2],"color":"#9a9a9a","opacity":0.5,"interpolate":"monotone"},
"encoding":{
"x":{"field":"t","type":"quantitative","scale":{"domain":[-0.675,331.4],"nice":false,"zero":false},"axis":{"values":[0,30,60,90,120,150,180,210,240,270,300],"labels":false,"ticks":false,"domain":false,"grid":true,"title":null}},
"y":{"field":"v","type":"quantitative","scale":{"domain":[58304,70342],"nice":false,"zero":false},"axis":{"orient":"right","values":[59000,60000,61000,62000,63000,64000,65000,66000,67000,68000,69000,70000],"format":"d","grid":true,"domain":true,"ticks":false,"labelPadding":5,"labelOverlap":false,"title":null}},
"detail":{"field":"band"}}},
{"data":{"name":"last"},"mark":{"type":"rule","color":"#8a8a8a","strokeDash":[1,2],"strokeWidth":1},
"encoding":{"y":{"field":"price","type":"quantitative","scale":{"domain":[58304,70342],"nice":false,"zero":false},"axis":{"orient":"right","values":[59000,60000,61000,62000,63000,64000,65000,66000,67000,68000,69000,70000],"format":"d","grid":true,"domain":true,"ticks":false,"labelPadding":5,"labelOverlap":false,"title":null}}}},
{"data":{"name":"candles"},"mark":{"type":"rule","strokeWidth":1},
"encoding":{
"x":{"field":"t","type":"quantitative","scale":{"domain":[-0.675,331.4],"nice":false,"zero":false},"axis":{"values":[0,30,60,90,120,150,180,210,240,270,300],"labels":false,"ticks":false,"domain":false,"grid":true,"title":null}},
"y":{"field":"l","type":"quantitative","scale":{"domain":[58304,70342],"nice":false,"zero":false},"axis":{"orient":"right","values":[59000,60000,61000,62000,63000,64000,65000,66000,67000,68000,69000,70000],"format":"d","grid":true,"domain":true,"ticks":false,"labelPadding":5,"labelOverlap":false,"title":null}},
"y2":{"field":"h"},
"color":{"condition":{"test":"datum.c >= datum.o","value":"#ea245c"},"value":"#20c6c6"}}},
{"data":{"name":"candles"},"mark":{"type":"bar","size":3.6},
"encoding":{
"x":{"field":"t","type":"quantitative","scale":{"domain":[-0.675,331.4],"nice":false,"zero":false},"axis":{"values":[0,30,60,90,120,150,180,210,240,270,300],"labels":false,"ticks":false,"domain":false,"grid":true,"title":null}},
"y":{"field":"o","type":"quantitative","scale":{"domain":[58304,70342],"nice":false,"zero":false},"axis":{"orient":"right","values":[59000,60000,61000,62000,63000,64000,65000,66000,67000,68000,69000,70000],"format":"d","grid":true,"domain":true,"ticks":false,"labelPadding":5,"labelOverlap":false,"title":null}},
"y2":{"field":"c"},
"color":{"condition":{"test":"datum.c >= datum.o","value":"#ea245c"},"value":"#20c6c6"}}},
{"data":{"name":"ma"},"mark":{"type":"line","strokeWidth":1.4,"interpolate":"monotone"},
"encoding":{
"x":{"field":"t","type":"quantitative","scale":{"domain":[-0.675,331.4],"nice":false,"zero":false},"axis":{"values":[0,30,60,90,120,150,180,210,240,270,300],"labels":false,"ticks":false,"domain":false,"grid":true,"title":null}},
"y":{"field":"v","type":"quantitative","scale":{"domain":[58304,70342],"nice":false,"zero":false},"axis":{"orient":"right","values":[59000,60000,61000,62000,63000,64000,65000,66000,67000,68000,69000,70000],"format":"d","grid":true,"domain":true,"ticks":false,"labelPadding":5,"labelOverlap":false,"title":null}},
"color":{"field":"s","type":"nominal",
"scale":{"domain":["SMA(5)","SMA(10)","SMA(20)","SMA(50)","SMA(100)","SMA(200)","ボリンジャーバンド","上限1(12,5.00)","上限2(12,4.00)","上限3(12,3.00)","上限4(12,2.00)","上限5(12,1.00)","中央(12)","下限5(12,1.00)","下限4(12,2.00)","下限3(12,3.00)","下限2(12,4.00)","下限1(12,5.00)"],
"range":["#eeeeee","#22dd77","#1e62e6","#8c22cc","#e8600c","#e044bc","#dcdcdc","#3a3a3a","#3a3a3a","#3a3a3a","#a8a8a8","#a8a8a8","#a8a8a8","#a8a8a8","#a8a8a8","#3a3a3a","#3a3a3a","#3a3a3a"]},
"legend":{"orient":"top-left","direction":"horizontal","columns":18,"offset":2,"padding":0,"title":"単純移動平均","titleOrient":"left","titleColor":"#a8a8a8","titleFont":"Noto Sans CJK JP","titleFontSize":5.8,"titleFontWeight":"normal","titlePadding":2,"labelFont":"Noto Sans CJK JP","labelFontSize":5.8,"labelColor":"#cccccc","labelOffset":0,"symbolSize":0,"symbolOpacity":0,"symbolStrokeWidth":0,"columnPadding":2,
"encode":{"labels":{"update":{"fill":{"signal":"({'SMA(5)':'#eeeeee','SMA(10)':'#22dd77','SMA(20)':'#1e62e6','SMA(50)':'#8c22cc','SMA(100)':'#e8600c','SMA(200)':'#e044bc','ボリンジャーバンド':'#dcdcdc','上限4(12,2.00)':'#a8a8a8','上限5(12,1.00)':'#a8a8a8','中央(12)':'#a8a8a8','下限5(12,1.00)':'#a8a8a8','下限4(12,2.00)':'#a8a8a8'})[datum.value] || '#3a3a3a'"}}}}}}}},
{"data":{"name":"extremes"},"mark":{"type":"point","filled":true,"size":10,"opacity":1},
"encoding":{
"x":{"field":"t","type":"quantitative","scale":{"domain":[-0.675,331.4],"nice":false,"zero":false},"axis":{"values":[0,30,60,90,120,150,180,210,240,270,300],"labels":false,"ticks":false,"domain":false,"grid":true,"title":null}},
"y":{"field":"price","type":"quantitative","scale":{"domain":[58304,70342],"nice":false,"zero":false},"axis":{"orient":"right","values":[59000,60000,61000,62000,63000,64000,65000,66000,67000,68000,69000,70000],"format":"d","grid":true,"domain":true,"ticks":false,"labelPadding":5,"labelOverlap":false,"title":null}},
"color":{"condition":{"test":"datum.kind==='high'","value":"#e8305a"},"value":"#22c4c4"}}},
{"data":{"name":"extremes"},"transform":[{"filter":"datum.kind==='high'"}],"mark":{"type":"text","align":"left","baseline":"middle","dx":3,"dy":-4,"fontSize":7,"color":"#e8305a"},
"encoding":{
"x":{"field":"t","type":"quantitative","scale":{"domain":[-0.675,331.4],"nice":false,"zero":false},"axis":{"values":[0,30,60,90,120,150,180,210,240,270,300],"labels":false,"ticks":false,"domain":false,"grid":true,"title":null}},
"y":{"field":"price","type":"quantitative","scale":{"domain":[58304,70342],"nice":false,"zero":false},"axis":{"orient":"right","values":[59000,60000,61000,62000,63000,64000,65000,66000,67000,68000,69000,70000],"format":"d","grid":true,"domain":true,"ticks":false,"labelPadding":5,"labelOverlap":false,"title":null}},
"text":{"field":"label"}}},
{"data":{"name":"extremes"},"transform":[{"filter":"datum.kind==='low'"}],"mark":{"type":"text","align":"left","baseline":"middle","dx":0,"dy":6,"fontSize":7,"color":"#22c4c4"},
"encoding":{
"x":{"field":"t","type":"quantitative","scale":{"domain":[-0.675,331.4],"nice":false,"zero":false},"axis":{"values":[0,30,60,90,120,150,180,210,240,270,300],"labels":false,"ticks":false,"domain":false,"grid":true,"title":null}},
"y":{"field":"price","type":"quantitative","scale":{"domain":[58304,70342],"nice":false,"zero":false},"axis":{"orient":"right","values":[59000,60000,61000,62000,63000,64000,65000,66000,67000,68000,69000,70000],"format":"d","grid":true,"domain":true,"ticks":false,"labelPadding":5,"labelOverlap":false,"title":null}},
"text":{"field":"label"}}},
{"data":{"name":"last"},"mark":{"type":"point","shape":"M-1,-0.2222L1,-0.2222L1,0.2222L-1,0.2222Z","size":1296,"filled":true,"fill":"#ffffff","stroke":"#777777","strokeWidth":0.6,"opacity":1,"xOffset":26,"yOffset":1},
"encoding":{
"x":{"field":"t","type":"quantitative","scale":{"domain":[-0.675,331.4],"nice":false,"zero":false},"axis":{"values":[0,30,60,90,120,150,180,210,240,270,300],"labels":false,"ticks":false,"domain":false,"grid":true,"title":null}},
"y":{"field":"price","type":"quantitative","scale":{"domain":[58304,70342],"nice":false,"zero":false},"axis":{"orient":"right","values":[59000,60000,61000,62000,63000,64000,65000,66000,67000,68000,69000,70000],"format":"d","grid":true,"domain":true,"ticks":false,"labelPadding":5,"labelOverlap":false,"title":null}}}},
{"data":{"name":"last"},"mark":{"type":"text","align":"center","baseline":"middle","dx":26,"dy":1,"fontSize":7,"color":"#111111","font":"Liberation Sans"},
"encoding":{
"x":{"field":"t","type":"quantitative","scale":{"domain":[-0.675,331.4],"nice":false,"zero":false},"axis":{"values":[0,30,60,90,120,150,180,210,240,270,300],"labels":false,"ticks":false,"domain":false,"grid":true,"title":null}},
"y":{"field":"price","type":"quantitative","scale":{"domain":[58304,70342],"nice":false,"zero":false},"axis":{"orient":"right","values":[59000,60000,61000,62000,63000,64000,65000,66000,67000,68000,69000,70000],"format":"d","grid":true,"domain":true,"ticks":false,"labelPadding":5,"labelOverlap":false,"title":null}},
"text":{"field":"label"}}},
{"data":{"name":"trades"},"transform":[{"filter":"datum.side==='買い'"}],
"mark":{"type":"point","shape":"M-0.0163,-1L0.0163,-1L0.0163,-0.065L0.0327,-0.065L0,0L-0.0327,-0.065L-0.0163,-0.065Z","size":93636,"filled":true,"fill":"#a8a8a8","stroke":"#707070","strokeWidth":0.6,"opacity":1,"yOffset":-4},
"encoding":{
"x":{"field":"t","type":"quantitative","scale":{"domain":[-0.675,331.4],"nice":false,"zero":false},"axis":{"values":[0,30,60,90,120,150,180,210,240,270,300],"labels":false,"ticks":false,"domain":false,"grid":true,"title":null}},
"y":{"field":"price","type":"quantitative","scale":{"domain":[58304,70342],"nice":false,"zero":false},"axis":{"orient":"right","values":[59000,60000,61000,62000,63000,64000,65000,66000,67000,68000,69000,70000],"format":"d","grid":true,"domain":true,"ticks":false,"labelPadding":5,"labelOverlap":false,"title":null}}}},
{"data":{"name":"trades"},"transform":[{"filter":"datum.side==='売り'"}],
"mark":{"type":"point","shape":"M-0.032,-1L0.032,-1L0.032,-0.128L0.064,-0.128L0,0L-0.064,-0.128L-0.032,-0.128Z","size":24336,"filled":true,"fill":"#a8a8a8","stroke":"#707070","strokeWidth":0.6,"opacity":1,"yOffset":-7},
"encoding":{
"x":{"field":"t","type":"quantitative","scale":{"domain":[-0.675,331.4],"nice":false,"zero":false},"axis":{"values":[0,30,60,90,120,150,180,210,240,270,300],"labels":false,"ticks":false,"domain":false,"grid":true,"title":null}},
"y":{"field":"price","type":"quantitative","scale":{"domain":[58304,70342],"nice":false,"zero":false},"axis":{"orient":"right","values":[59000,60000,61000,62000,63000,64000,65000,66000,67000,68000,69000,70000],"format":"d","grid":true,"domain":true,"ticks":false,"labelPadding":5,"labelOverlap":false,"title":null}}}},
{"data":{"name":"trades"},"transform":[{"filter":"datum.side==='買い'"}],
"mark":{"type":"point","shape":"M-1,-0.5125L1,-0.5125L1,0.5125L-1,0.5125Z","size":6400,"filled":true,"fill":"#ffffff","stroke":"#999999","strokeWidth":0.8,"opacity":1,"xOffset":40,"yOffset":-177.5},
"encoding":{
"x":{"field":"t","type":"quantitative","scale":{"domain":[-0.675,331.4],"nice":false,"zero":false},"axis":{"values":[0,30,60,90,120,150,180,210,240,270,300],"labels":false,"ticks":false,"domain":false,"grid":true,"title":null}},
"y":{"field":"price","type":"quantitative","scale":{"domain":[58304,70342],"nice":false,"zero":false},"axis":{"orient":"right","values":[59000,60000,61000,62000,63000,64000,65000,66000,67000,68000,69000,70000],"format":"d","grid":true,"domain":true,"ticks":false,"labelPadding":5,"labelOverlap":false,"title":null}}}},
{"data":{"name":"trades"},"transform":[{"filter":"datum.side==='売り'"}],
"mark":{"type":"point","shape":"M-1,-0.5375L1,-0.5375L1,0.5375L-1,0.5375Z","size":6400,"filled":true,"fill":"#ffffff","stroke":"#999999","strokeWidth":0.8,"opacity":1,"xOffset":40,"yOffset":-106.9},
"encoding":{
"x":{"field":"t","type":"quantitative","scale":{"domain":[-0.675,331.4],"nice":false,"zero":false},"axis":{"values":[0,30,60,90,120,150,180,210,240,270,300],"labels":false,"ticks":false,"domain":false,"grid":true,"title":null}},
"y":{"field":"price","type":"quantitative","scale":{"domain":[58304,70342],"nice":false,"zero":false},"axis":{"orient":"right","values":[59000,60000,61000,62000,63000,64000,65000,66000,67000,68000,69000,70000],"format":"d","grid":true,"domain":true,"ticks":false,"labelPadding":5,"labelOverlap":false,"title":null}}}},
{"data":{"name":"trades"},"transform":[{"filter":"datum.side==='買い'"}],
"mark":{"type":"text","align":"left","baseline":"middle","dx":9,"dy":-188,"fontSize":11,"color":"#111111","font":"Noto Sans CJK JP"},
"encoding":{
"x":{"field":"t","type":"quantitative","scale":{"domain":[-0.675,331.4],"nice":false,"zero":false},"axis":{"values":[0,30,60,90,120,150,180,210,240,270,300],"labels":false,"ticks":false,"domain":false,"grid":true,"title":null}},
"y":{"field":"price","type":"quantitative","scale":{"domain":[58304,70342],"nice":false,"zero":false},"axis":{"orient":"right","values":[59000,60000,61000,62000,63000,64000,65000,66000,67000,68000,69000,70000],"format":"d","grid":true,"domain":true,"ticks":false,"labelPadding":5,"labelOverlap":false,"title":null}},
"text":{"field":"time"}}},
{"data":{"name":"trades"},"transform":[{"filter":"datum.side==='買い'"}],
"mark":{"type":"text","align":"left","baseline":"middle","dx":9,"dy":-167,"fontSize":11,"color":"#111111","font":"Noto Sans CJK JP"},
"encoding":{
"x":{"field":"t","type":"quantitative","scale":{"domain":[-0.675,331.4],"nice":false,"zero":false},"axis":{"values":[0,30,60,90,120,150,180,210,240,270,300],"labels":false,"ticks":false,"domain":false,"grid":true,"title":null}},
"y":{"field":"price","type":"quantitative","scale":{"domain":[58304,70342],"nice":false,"zero":false},"axis":{"orient":"right","values":[59000,60000,61000,62000,63000,64000,65000,66000,67000,68000,69000,70000],"format":"d","grid":true,"domain":true,"ticks":false,"labelPadding":5,"labelOverlap":false,"title":null}},
"text":{"field":"note"}}},
{"data":{"name":"trades"},"transform":[{"filter":"datum.side==='売り'"}],
"mark":{"type":"text","align":"left","baseline":"middle","dx":8,"dy":-118.4,"fontSize":11,"color":"#111111","font":"Noto Sans CJK JP"},
"encoding":{
"x":{"field":"t","type":"quantitative","scale":{"domain":[-0.675,331.4],"nice":false,"zero":false},"axis":{"values":[0,30,60,90,120,150,180,210,240,270,300],"labels":false,"ticks":false,"domain":false,"grid":true,"title":null}},
"y":{"field":"price","type":"quantitative","scale":{"domain":[58304,70342],"nice":false,"zero":false},"axis":{"orient":"right","values":[59000,60000,61000,62000,63000,64000,65000,66000,67000,68000,69000,70000],"format":"d","grid":true,"domain":true,"ticks":false,"labelPadding":5,"labelOverlap":false,"title":null}},
"text":{"field":"time"}}},
{"data":{"name":"trades"},"transform":[{"filter":"datum.side==='売り'"}],
"mark":{"type":"text","align":"left","baseline":"middle","dx":8,"dy":-99.4,"fontSize":11,"color":"#111111","font":"Noto Sans CJK JP"},
"encoding":{
"x":{"field":"t","type":"quantitative","scale":{"domain":[-0.675,331.4],"nice":false,"zero":false},"axis":{"values":[0,30,60,90,120,150,180,210,240,270,300],"labels":false,"ticks":false,"domain":false,"grid":true,"title":null}},
"y":{"field":"price","type":"quantitative","scale":{"domain":[58304,70342],"nice":false,"zero":false},"axis":{"orient":"right","values":[59000,60000,61000,62000,63000,64000,65000,66000,67000,68000,69000,70000],"format":"d","grid":true,"domain":true,"ticks":false,"labelPadding":5,"labelOverlap":false,"title":null}},
"text":{"field":"note"}}}
]
},
{
"width":984,"height":22,
"title":{"text":"出来高","offset":-9,"fontSize":7,"color":"#bbbbbb"},
"data":{"name":"candles"},
"mark":{"type":"bar","size":3.4},
"encoding":{
"x":{"field":"t","type":"quantitative","scale":{"domain":[-0.675,331.4],"nice":false,"zero":false},"axis":{"values":[0,30,60,90,120,150,180,210,240,270,300],"labels":false,"ticks":false,"domain":false,"grid":true,"title":null}},
"y":{"field":"v","type":"quantitative","scale":{"domain":[0,800000],"nice":false},"axis":{"orient":"right","values":[500000],"format":"d","grid":true,"domain":true,"ticks":false,"labelPadding":5,"title":null}},
"color":{"condition":{"test":"datum.c >= datum.o","value":"#e0245a"},"value":"#1fbaba"}}
},
{
"width":984,"height":8,
"view":{"fill":"#242424","stroke":"#333333"},
"title":{"text":"RCI  RCI(9)  RCI(26)","offset":-7,"fontSize":6,"color":"#c0b040"},
"data":{"name":"rci"},
"encoding":{
"x":{"field":"t","type":"quantitative","scale":{"domain":[-0.675,331.4],"nice":false,"zero":false},"axis":{"values":[0,30,60,90,120,150,180,210,240,270,300],"labelExpr":"['06/10','09:30','10:00','10:30','11:00','11:30','13:00','13:30','14:00','14:30','15:00'][round(datum.value/30)]","labelAlign":"left","labelPadding":1,"labelOverlap":false,"labelFlush":false,"labelBound":false,"labelFont":"Liberation Sans","labelFontSize":7.5,"labelFontWeight":{"condition":{"test":"datum.value===0","value":"bold"},"value":"normal"},"ticks":false,"domain":true,"grid":true,"title":null}},
"y":{"field":"v","type":"quantitative","scale":{"domain":[-100,100],"nice":false},"axis":{"orient":"right","values":[0],"grid":false,"domain":true,"ticks":false,"labelPadding":5,"title":null}}
},
"layer":[
{"transform":[{"filter":"datum.s==='26'"}],"mark":{"type":"line","color":"#3a6fd0","strokeWidth":1.2,"interpolate":"monotone"}},
{"transform":[{"filter":"datum.s==='9'"}],"mark":{"type":"line","color":"#b0a428","strokeWidth":1.2,"interpolate":"monotone"}}
]
}
]
}
